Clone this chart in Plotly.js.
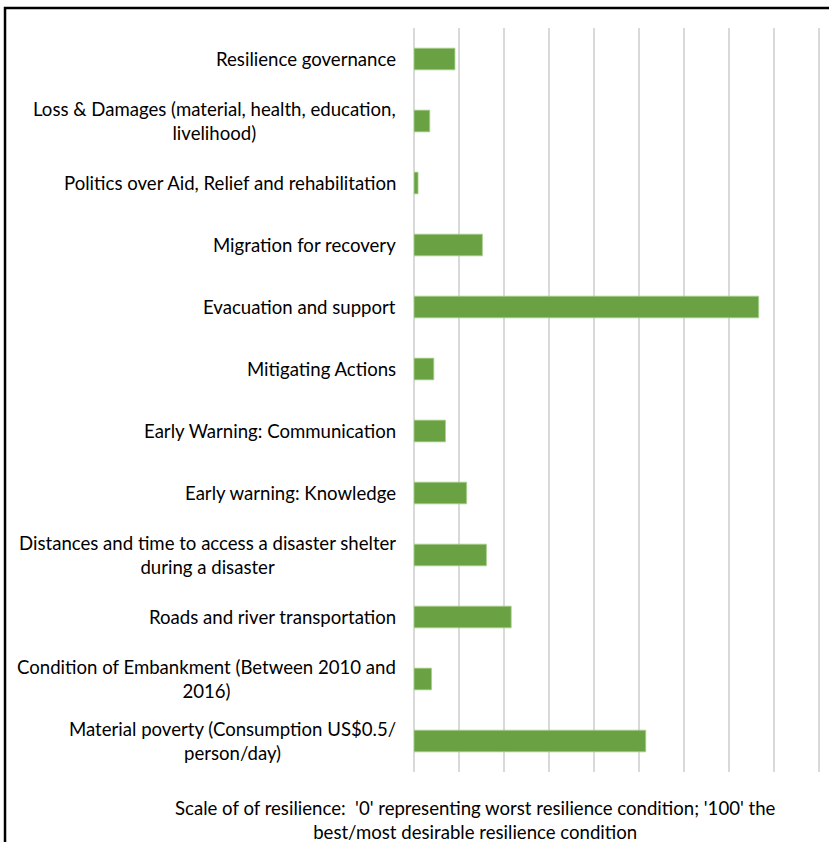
<!DOCTYPE html>
<html>
<head>
<meta charset="utf-8">
<script src="https://cdn.plot.ly/plotly-3.0.1.min.js"></script>
<style>html,body{margin:0;padding:0;background:#fff;overflow:hidden;}</style>
</head>
<body>
<div id="chart" style="width:829px;height:842px;"></div>
<script>
const categories = [
  "Resilience governance",
  "Loss & Damages (material, health, education,<br>livelihood)",
  "Politics over Aid, Relief and rehabilitation",
  "Migration for recovery",
  "Evacuation and support",
  "Mitigating Actions",
  "Early Warning: Communication",
  "Early warning: Knowledge",
  "Distances and time to access a disaster shelter<br>during a disaster",
  "Roads and river transportation",
  "Condition of Embankment (Between 2010 and<br>2016)",
  "Material poverty (Consumption US$0.5/<br>person/day)"
];
const values = [9.1, 3.5, 0.9, 15.2, 76.6, 4.4, 7.0, 11.7, 16.1, 21.6, 3.9, 51.5];
const xTitle = "Scale of of resilience:  '0' representing worst resilience condition; '100' the<br>best/most desirable resilience condition";

const font = "Lato, 'Open Sans', sans-serif";
const annotations = categories.map((c) => ({
  text: c, x: 0, xref: 'paper', xshift: -16, xanchor: 'right',
  y: c, yref: 'y', yanchor: 'middle', align: 'center', showarrow: false,
  font: {family: font, size: 18.6, color: '#000'}
}));
annotations.push({
  text: xTitle, xref: 'paper', x: 0.147, xanchor: 'center',
  yref: 'paper', y: -0.064, yanchor: 'middle', align: 'center', showarrow: false,
  font: {family: font, size: 18.6, color: '#000'}
});

Plotly.newPlot('chart', [{
  type: 'bar', orientation: 'h', x: values, y: categories,
  marker: {color: '#6aa143', line: {color: '#a9d08e', width: 0.8}},
  hoverinfo: 'none'
}], {
  width: 829, height: 842,
  margin: {l: 414, r: 0, t: 28, b: 70},
  paper_bgcolor: '#fff', plot_bgcolor: '#fff',
  bargap: 0.65,
  showlegend: false,
  xaxis: {range: [0, 92.22], dtick: 10, tick0: 0, showgrid: true, gridcolor: '#d9d9d9', gridwidth: 1.5,
          zeroline: true, zerolinecolor: '#d9d9d9', zerolinewidth: 1.5, showticklabels: false, ticks: '', fixedrange: true},
  yaxis: {type: 'category', autorange: 'reversed', showticklabels: false, showgrid: false, zeroline: false, ticks: '', fixedrange: true},
  annotations: annotations,
  shapes: [{type: 'rect', xref: 'paper', yref: 'paper', x0: -0.9855, x1: 1.2, y0: -0.3, y1: 1.0269,
            line: {color: '#000', width: 2.5}, fillcolor: 'rgba(0,0,0,0)', layer: 'above'}]
}, {staticPlot: true});
</script>
</body>
</html>
